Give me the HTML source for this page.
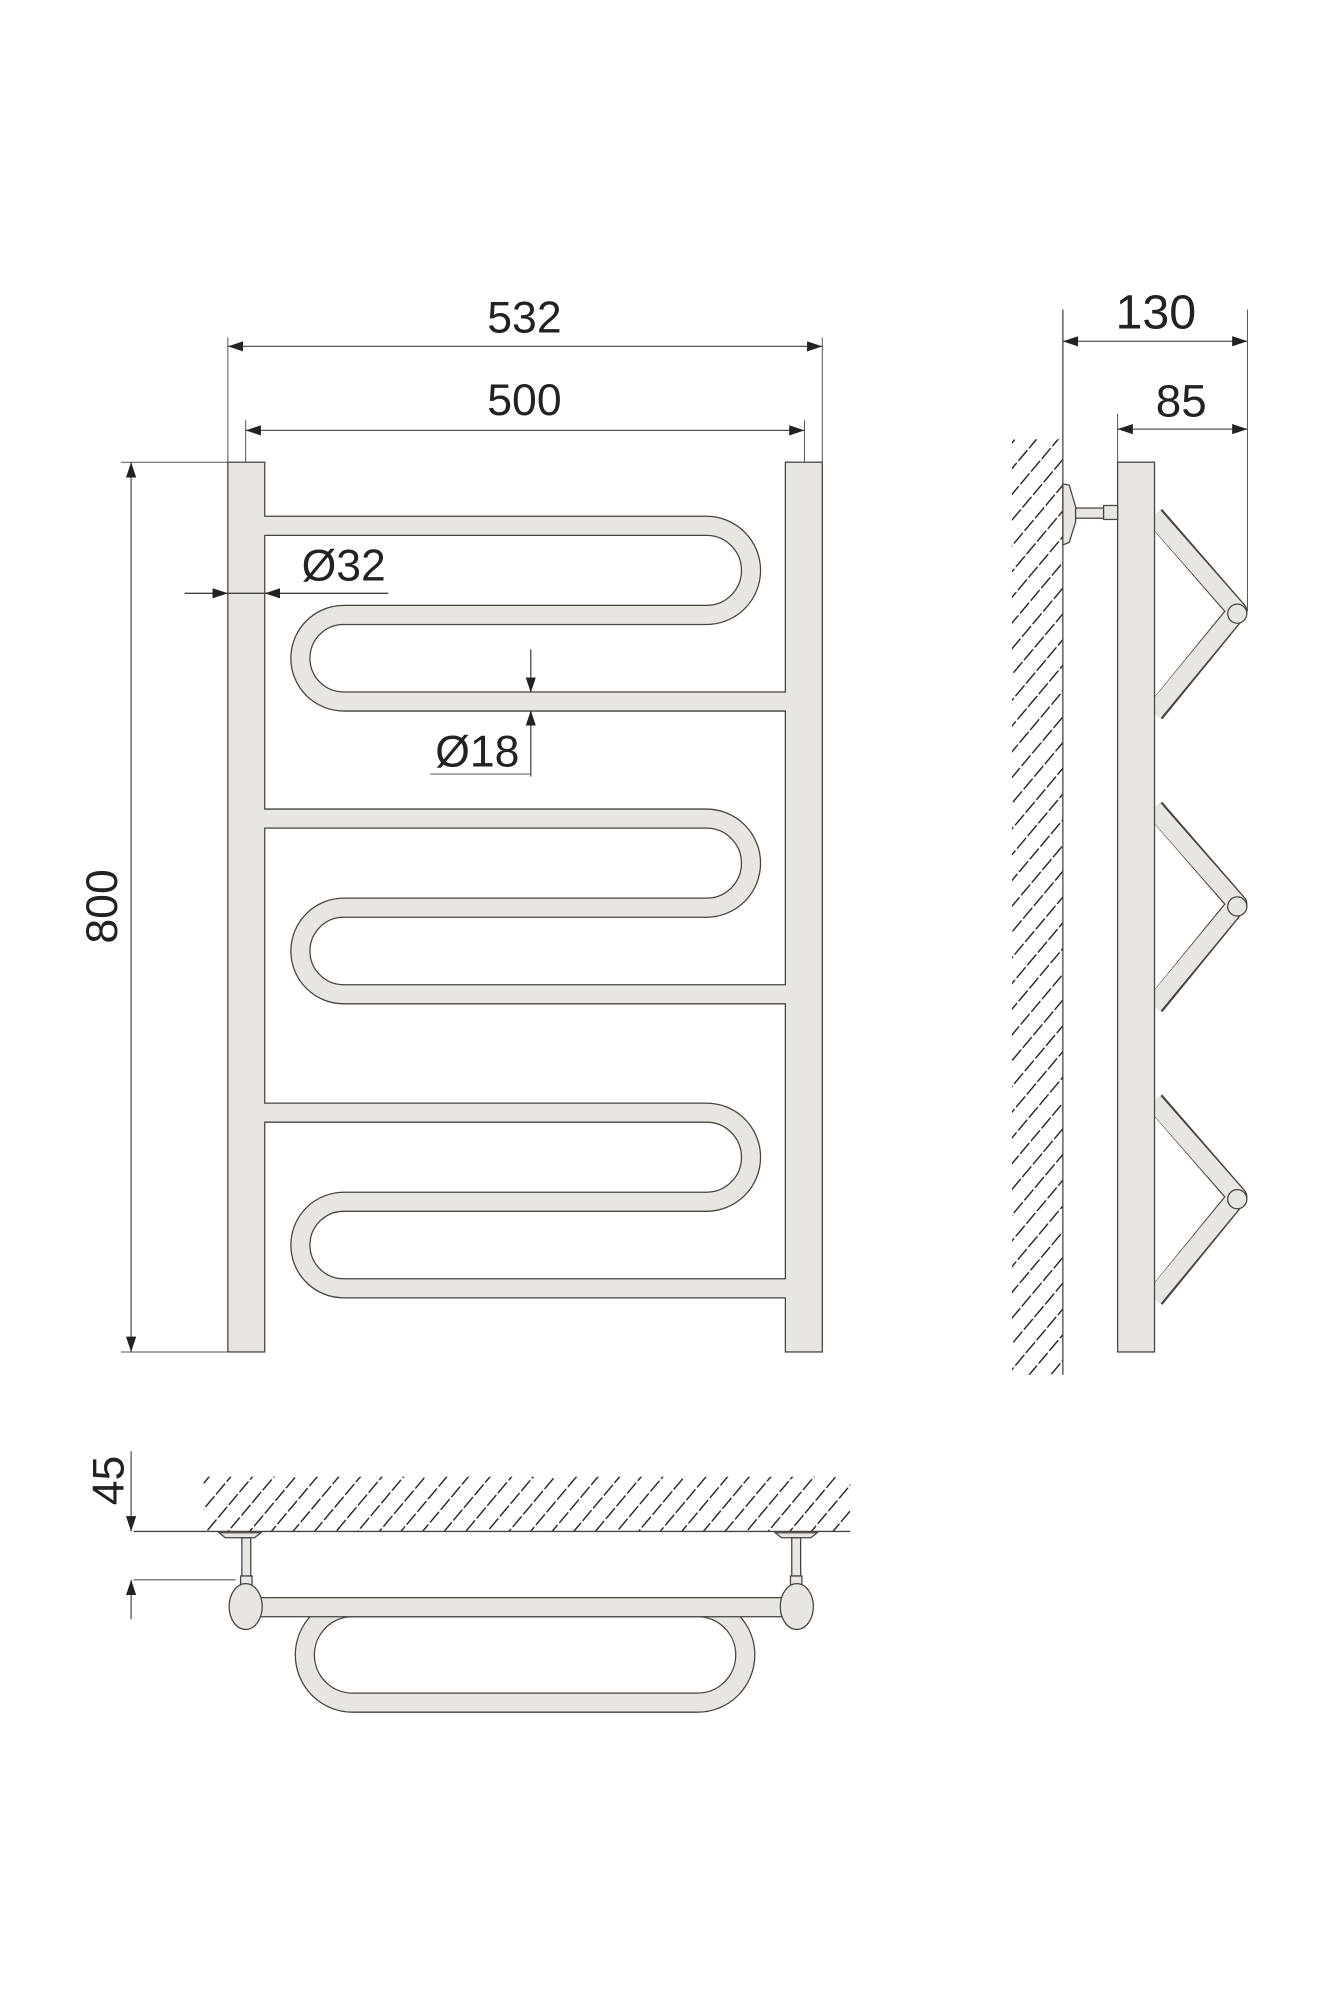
<!DOCTYPE html>
<html><head><meta charset="utf-8"><style>html,body{margin:0;padding:0;background:#fff}svg{display:block}</style></head>
<body>
<svg xmlns="http://www.w3.org/2000/svg" width="1334" height="2000" viewBox="0 0 1048 1571">
<defs>
<marker id="a" viewBox="0 0 12 8" refX="12" refY="4" markerWidth="12" markerHeight="8" orient="auto-start-reverse" markerUnits="userSpaceOnUse"><path d="M0 0L12 4L0 8z" fill="#222"/></marker>
<pattern id="h" width="13" height="13" patternUnits="userSpaceOnUse" patternTransform="rotate(40)">
<line x1="0" y1="0" x2="0" y2="13" stroke="#222" stroke-width="2.2" stroke-dasharray="10 2 2 2"/>
</pattern>
<g id="serp">
<path d="M208 413 H555 A35 35 0 0 1 555 483 H270 A34 34 0 0 0 270 551 H617" fill="none" stroke="#444" stroke-width="16"/>
<path d="M207 413 H555 A35 35 0 0 1 555 483 H270 A34 34 0 0 0 270 551 H618" fill="none" stroke="#e9e5e0" stroke-width="14"/>
</g>
<g id="zig">
<path d="M907 405 L972 480 L907 560" fill="none" stroke="#444" stroke-width="16" stroke-linejoin="round"/>
<path d="M906 405 L972 480 L906 560" fill="none" stroke="#e9e5e0" stroke-width="14" stroke-linejoin="round"/>
<circle cx="972" cy="482" r="7.5" fill="#e9e5e0" stroke="#444" stroke-width="1"/>
</g>
</defs>
<g font-family="'Liberation Sans','DejaVu Sans',sans-serif" fill="#222" font-size="35">
<line x1="179" y1="265" x2="179" y2="363" stroke="#555" stroke-width="0.8"/>
<line x1="646" y1="265" x2="646" y2="363" stroke="#555" stroke-width="0.8"/>
<line x1="193" y1="330" x2="193" y2="363" stroke="#555" stroke-width="0.8"/>
<line x1="632" y1="330" x2="632" y2="363" stroke="#555" stroke-width="0.8"/>
<line x1="179" y1="272" x2="646" y2="272" stroke="#555" stroke-width="1" marker-start="url(#a)" marker-end="url(#a)"/>
<line x1="193" y1="338" x2="632" y2="338" stroke="#555" stroke-width="1" marker-start="url(#a)" marker-end="url(#a)"/>
<text x="412" y="261" text-anchor="middle">532</text>
<text x="412" y="326" text-anchor="middle">500</text>
<line x1="95" y1="363" x2="179" y2="363" stroke="#555" stroke-width="0.8"/>
<line x1="95" y1="1062" x2="179" y2="1062" stroke="#555" stroke-width="0.8"/>
<line x1="103" y1="363" x2="103" y2="1062" stroke="#555" stroke-width="1" marker-start="url(#a)" marker-end="url(#a)"/>
<text transform="translate(92 712) rotate(-90)" text-anchor="middle">800</text>
<rect x="179" y="363" width="29" height="699" fill="#e9e5e0" stroke="#444" stroke-width="1"/>
<rect x="617" y="363" width="29" height="699" fill="#e9e5e0" stroke="#444" stroke-width="1"/>
<use href="#serp"/>
<use href="#serp" y="230"/>
<use href="#serp" y="461"/>
<line x1="145" y1="466" x2="179" y2="466" stroke="#444" stroke-width="1" marker-end="url(#a)"/>
<line x1="305" y1="466" x2="208" y2="466" stroke="#444" stroke-width="1" marker-end="url(#a)"/>
<line x1="179" y1="466" x2="208" y2="466" stroke="#444" stroke-width="1"/>
<text x="270" y="456" text-anchor="middle">Ø32</text>
<line x1="417" y1="510" x2="417" y2="544" stroke="#444" stroke-width="1" marker-end="url(#a)"/>
<line x1="417" y1="610" x2="417" y2="558" stroke="#444" stroke-width="1" marker-end="url(#a)"/>
<line x1="338" y1="608" x2="417" y2="608" stroke="#666" stroke-width="0.8"/>
<text x="375" y="602" text-anchor="middle">Ø18</text>
<rect x="795" y="345" width="40" height="735" fill="url(#h)"/>
<line x1="835" y1="243" x2="835" y2="1080" stroke="#444" stroke-width="1"/>
<line x1="980" y1="243" x2="980" y2="480" stroke="#555" stroke-width="0.8"/>
<line x1="878" y1="325" x2="878" y2="363" stroke="#555" stroke-width="0.8"/>
<line x1="835" y1="268" x2="980" y2="268" stroke="#555" stroke-width="1" marker-start="url(#a)" marker-end="url(#a)"/>
<line x1="878" y1="337" x2="980" y2="337" stroke="#555" stroke-width="1" marker-start="url(#a)" marker-end="url(#a)"/>
<text x="908" y="258" text-anchor="middle" font-size="38">130</text>
<text x="928" y="327" text-anchor="middle" font-size="36">85</text>
<use href="#zig"/>
<use href="#zig" y="230"/>
<use href="#zig" y="460"/>
<rect x="878" y="363" width="29" height="699" fill="#e9e5e0" stroke="#444" stroke-width="1"/>
<path d="M835 380 L840 381 L845 398 L845 410 L840 426 L835 428z" fill="#e9e5e0" stroke="#444" stroke-width="1"/>
<rect x="845" y="399" width="22" height="8" fill="#e9e5e0" stroke="#444" stroke-width="1"/>
<rect x="867" y="397" width="11" height="11" fill="#e9e5e0" stroke="#444" stroke-width="1"/>
<rect x="160" y="1160" width="508" height="43" fill="url(#h)"/>
<line x1="105" y1="1203" x2="668" y2="1203" stroke="#444" stroke-width="1"/>
<line x1="105" y1="1241" x2="185" y2="1241" stroke="#555" stroke-width="0.8"/>
<line x1="103" y1="1140" x2="103" y2="1203" stroke="#555" stroke-width="1" marker-end="url(#a)"/>
<line x1="103" y1="1272" x2="103" y2="1241" stroke="#555" stroke-width="1" marker-end="url(#a)"/>
<text transform="translate(97 1163) rotate(-90)" text-anchor="middle">45</text>
<rect x="239.5" y="1262.5" width="346" height="75" rx="37.5" fill="none" stroke="#444" stroke-width="16"/>
<rect x="239.5" y="1262.5" width="346" height="75" rx="37.5" fill="none" stroke="#e9e5e0" stroke-width="14"/>
<rect x="200" y="1255" width="425" height="15" fill="#e9e5e0" stroke="#444" stroke-width="1"/>
<g fill="#e9e5e0" stroke="#444" stroke-width="1">
<path d="M172 1204 H205 L200 1208 H177z"/>
<rect x="190" y="1208" width="7" height="30"/>
<rect x="189" y="1238" width="9" height="8"/>
<ellipse cx="193" cy="1262" rx="13" ry="18"/>
<path d="M609 1204 H642 L637 1208 H614z"/>
<rect x="622" y="1208" width="7" height="30"/>
<rect x="621" y="1238" width="9" height="8"/>
<ellipse cx="626" cy="1262" rx="13" ry="18"/>
</g>
</g>
</svg>
</body></html>
